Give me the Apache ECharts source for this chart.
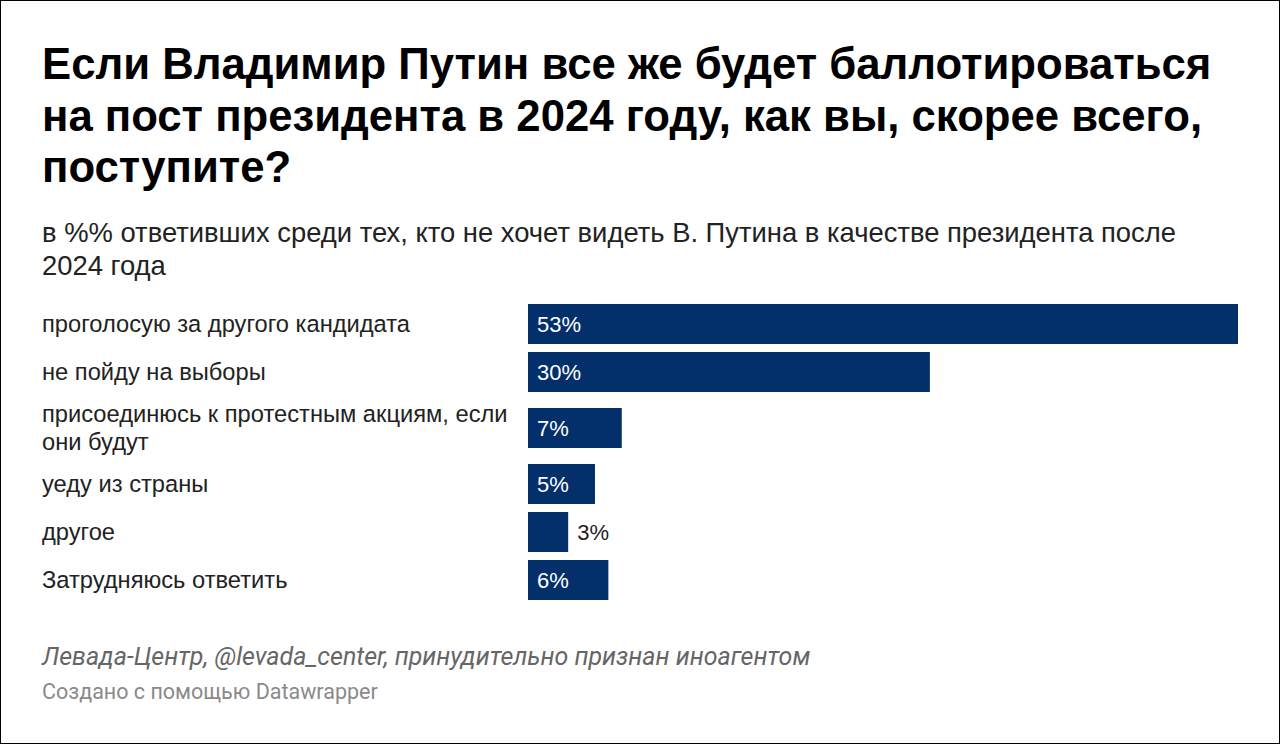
<!DOCTYPE html>
<html><head><meta charset="utf-8">
<script src="https://cdn.jsdelivr.net/npm/echarts@6/dist/echarts.min.js"></script>
<style>
html,body{margin:0;padding:0;background:#fff;}
#c{width:1280px;height:744px;box-sizing:border-box;border:1px solid #000;}
</style></head><body>
<div id="c"></div>
<script>
const categories = [
  "проголосую за другого кандидата",
  "не пойду на выборы",
  "присоединюсь к протестным акциям, если\nони будут",
  "уеду из страны",
  "другое",
  "Затрудняюсь ответить"
];
const values = [53, 30, 7, 5, 3, 6];

const titleText = "Если Владимир Путин все же будет баллотироваться\nна пост президента в 2024 году, как вы, скорее всего,\nпоступите?";
const subtitleText = "в %% ответивших среди тех, кто не хочет видеть В. Путина в качестве президента после\n2024 года";
const sourceText = "Левада-Центр, @levada_center, принудительно признан иноагентом";
const creditText = "Создано с помощью Datawrapper";

const chart = echarts.init(document.getElementById('c'), null, {renderer: 'svg'});
const maxV = Math.max(...values);
const grids = [], xAxes = [], yAxes = [], series = [];
let y = 299;
categories.forEach((cat, i) => {
  const lines = cat.split('\n').length;
  const slot = lines === 1 ? 48 : 64;
  const center = y + slot / 2;
  grids.push({left: 527, right: 41, top: center - 20, height: 40});
  xAxes.push({gridIndex: i, type: 'value', min: 0, max: maxV, show: false});
  yAxes.push({gridIndex: i, type: 'category', data: [cat],
    axisLine: {show: false}, axisTick: {show: false},
    axisLabel: {align: 'left', margin: 486,
      fontFamily: 'Liberation Sans', fontSize: 23.7, color: '#222', lineHeight: 28}});
  const v = values[i];
  series.push({type: 'bar', xAxisIndex: i, yAxisIndex: i, data: [v],
    barWidth: 40, itemStyle: {color: '#03306a'}, silent: true,
    label: {show: true, position: v < 4 ? 'right' : 'insideLeft',
      distance: 9, formatter: '{c}%', fontFamily: 'Liberation Sans', fontSize: 22,
      color: v < 4 ? '#222' : '#fff'}});
  y += slot;
});

chart.setOption({
  animation: false,
  title: [
    {text: titleText, left: 36, top: 32, textStyle: {fontFamily: 'Liberation Sans', fontWeight: 'bold', fontSize: 43.7, lineHeight: 51.5, color: '#000'}},
    {text: subtitleText, left: 36, top: 210, textStyle: {fontFamily: 'Liberation Sans', fontWeight: 'normal', fontSize: 27.4, lineHeight: 33, color: '#222'}},
    {text: sourceText, left: 36, top: 638, textStyle: {fontFamily: 'Roboto', fontStyle: 'italic', fontWeight: 'normal', fontSize: 25, color: '#666'}},
    {text: creditText, left: 36, top: 674, textStyle: {fontFamily: 'Roboto', fontWeight: 'normal', fontSize: 21.5, color: '#8a8a8a'}}
  ],
  grid: grids, xAxis: xAxes, yAxis: yAxes, series: series
});
</script>
</body></html>
